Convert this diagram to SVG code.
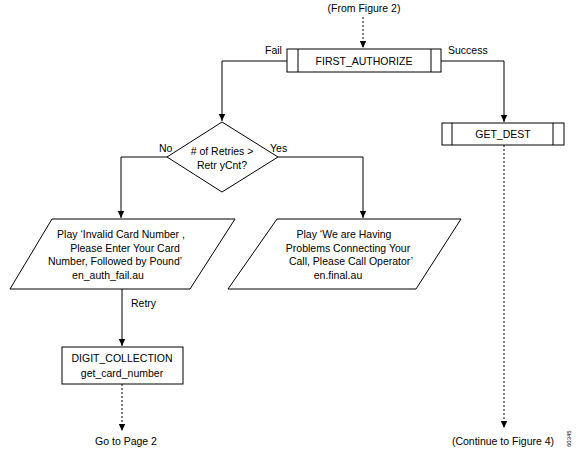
<svg xmlns="http://www.w3.org/2000/svg" width="578" height="449" viewBox="0 0 578 449">
<defs>
<style>
text{font-family:"Liberation Sans",Arial,sans-serif;font-size:10.5px;fill:#000}
.c{text-anchor:middle}
.n{fill:#fff;stroke:#000;stroke-width:1}
.l{fill:none;stroke:#000;stroke-width:1}
.d{fill:none;stroke:#000;stroke-width:1;stroke-dasharray:2,2}
</style>
<marker id="a" markerWidth="8" markerHeight="8" refX="7" refY="4" orient="auto" markerUnits="userSpaceOnUse">
<path d="M0,0.8 L7,4 L0,7.2 Z" fill="#000"/>
</marker>
</defs>
<rect width="578" height="449" fill="#fff"/>
<g id="connectors">
<line class="d" x1="363" y1="17" x2="363" y2="48" marker-end="url(#a)"/>
<polyline class="l" points="287,61 222,61 222,121" marker-end="url(#a)"/>
<polyline class="l" points="441,61 504,61 504,122" marker-end="url(#a)"/>
<polyline class="l" points="167,157 121,157 121,218" marker-end="url(#a)"/>
<polyline class="l" points="278,157 363,157 363,218" marker-end="url(#a)"/>
<line class="l" x1="122" y1="289" x2="122" y2="346" marker-end="url(#a)"/>
<line class="d" x1="122" y1="384" x2="122" y2="431" marker-end="url(#a)"/>
<line class="d" x1="504" y1="145" x2="504" y2="428" marker-end="url(#a)"/>
<text x="265" y="54">Fail</text>
<text x="448" y="54">Success</text>
<text x="159" y="152">No</text>
<text x="270" y="152">Yes</text>
<text x="131" y="307">Retry</text>
</g>
<g id="from-fig2"><text class="c" x="364" y="12">(From Figure 2)</text></g>
<g id="first-authorize">
<rect class="n" x="287" y="49" width="154" height="23"/>
<line class="l" x1="298" y1="49" x2="298" y2="72"/>
<line class="l" x1="431" y1="49" x2="431" y2="72"/>
<text class="c" x="364" y="65">FIRST_AUTHORIZE</text>
</g>
<g id="get-dest">
<rect class="n" x="442" y="123" width="122" height="22"/>
<line class="l" x1="452" y1="123" x2="452" y2="145"/>
<line class="l" x1="553" y1="123" x2="553" y2="145"/>
<text class="c" x="503" y="138">GET_DEST</text>
</g>
<g id="decision">
<polygon class="n" points="222,122 278,157 222,192 167,157"/>
<text class="c" x="222" y="155">
# of Retries &gt;</text>
<text class="c" x="222" y="169">Retr yCnt?</text>
</g>
<g id="play-invalid">
<polygon class="n" points="52,219 235,219 190,289 10,289"/>
<text class="c" x="121" y="238">Play ‘Invalid Card Number ,</text>
<text class="c" x="125" y="252">Please Enter Your Card</text>
<text class="c" x="115" y="265">Number, Followed by Pound’</text>
<text class="c" x="108" y="279">en_auth_fail.au</text>
</g>
<g id="play-problems">
<polygon class="n" points="277,219 461,219 416,289 228,289"/>
<text class="c" x="344" y="238">Play ‘We are Having</text>
<text class="c" x="348" y="252">Problems Connecting Your</text>
<text class="c" x="351" y="265">Call, Please Call Operator’</text>
<text class="c" x="338" y="279">en.final.au</text>
</g>
<g id="digit-collection">
<rect class="n" x="62" y="347" width="121" height="37"/>
<text class="c" x="122" y="362">DIGIT_COLLECTION</text>
<text class="c" x="122" y="377">get_card_number</text>
</g>
<g id="goto-page2"><text class="c" x="126" y="445">Go to Page 2</text></g>
<g id="continue-fig4"><text class="c" x="503" y="445">(Continue to Figure 4)</text></g>
<g id="fig-id"><text transform="translate(571,447) rotate(-90)" style="font-size:6px">60345</text></g>
</svg>
